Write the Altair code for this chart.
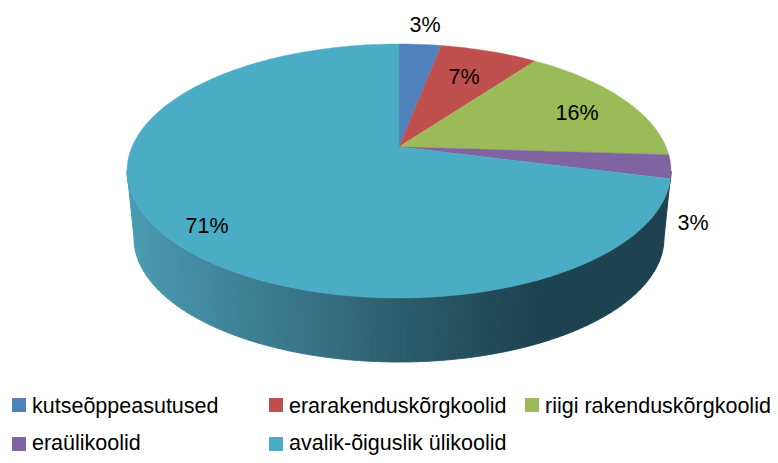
import math
import altair as alt

CATEGORIES = ["kutseõppeasutused", "erarakenduskõrgkoolid", "riigi rakenduskõrgkoolid", "eraülikoolid", "avalik-õiguslik ülikoolid"]
PERCENTS = [3, 7, 16, 3, 71]
COLORS = ["#4F81BD", "#C0504D", "#9BBB59", "#8064A2", "#4BACC6"]

# layout (page pixels)
M = 8
CX, CY, RX, RY, TILT = 399, 171, 272, 127, 0.19
BX, BY, BRX, BRY = 399, 238, 265, 124
LABEL_XY = [(425, 26), (464, 78), (577, 114), (693, 224), (207, 227)]
LEG_SQ = [(19, 405), (276, 405), (532, 405), (19, 444), (276, 444)]
LEG_TX = [(32, 406.5), (289, 406.5), (545, 406.5), (32, 444), (289, 444)]
FS = 21.5
FONT = "Liberation Sans"


def rim(a):
    """Point of the tilted top face for pie angle a (clockwise from 12 o'clock)."""
    sx, sy = math.sin(a), math.cos(a)
    k = 1 + TILT * sy
    return (CX + RX * sx * math.sqrt(1 - TILT ** 2) / k - M,
            CY - RY * (sy + TILT) / k - M)


def feature(ring, **props):
    return {"type": "Feature", "properties": props,
            "geometry": {"type": "Polygon", "coordinates": [[list(p) for p in ring] + [list(ring[0])]]}}


apex = (CX - M, CY - RY * TILT - M)
top = []
cum = 0
for name, pct in zip(CATEGORIES, PERCENTS):
    a0, a1 = cum / 100 * 2 * math.pi, (cum + pct) / 100 * 2 * math.pi
    n = max(4, pct * 4)
    ring = [apex] + [rim(a0 + (a1 - a0) * i / n) for i in range(n + 1)]
    top.append(feature(ring, name=name))
    cum += pct

# side wall: strips of even horizontal width between the upper and the lower ellipse
side = []
N = 110
pt = lambda t, x, y, rx, ry: (x + rx * math.cos(t) - M, y + ry * math.sin(t) - M)
for i in range(N):
    t0 = math.acos(1 - 2 * i / N)
    t1 = math.acos(1 - 2 * (i + 1) / N)
    arc = [t0 + (t1 - t0) * j / 6 for j in range(7)]
    ring = [pt(t, CX, CY, RX, RY) for t in arc] + [pt(t, BX, BY, BRX, BRY) for t in reversed(arc)]
    shade = BX + BRX * math.cos((t0 + t1) / 2)
    side.append(feature(ring, shade=shade))

proj = dict(type="identity", scale=1, translate=[0, 0])

shade_scale = alt.Scale(domain=[130, 200, 300, 400, 500, 535],
                        range=["#4A9BB2", "#428CA2", "#387588", "#2C5D6D", "#214956", "#1D4250"],
                        clamp=True)
side_layer = alt.Chart(alt.Data(values=side)).mark_geoshape(strokeWidth=1).encode(
    color=alt.Color("properties.shade:Q", scale=shade_scale, legend=None),
    stroke=alt.Stroke("properties.shade:Q", scale=shade_scale, legend=None),
).project(**proj)

cat_scale = alt.Scale(domain=CATEGORIES, range=COLORS)
top_layer = alt.Chart(alt.Data(values=top)).mark_geoshape(strokeWidth=0.4).encode(
    color=alt.Color("properties.name:N", scale=cat_scale, legend=None),
    stroke=alt.Stroke("properties.name:N", scale=cat_scale, legend=None),
).project(**proj)

label_rows = [{"t": f"{p}%", "x": x - M, "y": y - M} for p, (x, y) in zip(PERCENTS, LABEL_XY)]
labels = alt.Chart(alt.Data(values=label_rows)).mark_text(
    font=FONT, fontSize=FS, color="#000000", align="center", baseline="middle"
).encode(x=alt.X("x:Q", scale=None, axis=None), y=alt.Y("y:Q", scale=None, axis=None), text="t:N")

sq_rows = [{"c": c, "x": x - M, "y": y - M} for c, (x, y) in zip(CATEGORIES, LEG_SQ)]
squares = alt.Chart(alt.Data(values=sq_rows)).mark_square(size=196, opacity=1).encode(
    x=alt.X("x:Q", scale=None, axis=None), y=alt.Y("y:Q", scale=None, axis=None),
    color=alt.Color("c:N", scale=cat_scale, legend=None),
)

tx_rows = [{"c": c, "x": x - M, "y": y - M} for c, (x, y) in zip(CATEGORIES, LEG_TX)]
leg_text = alt.Chart(alt.Data(values=tx_rows)).mark_text(
    font=FONT, fontSize=FS, color="#000000", align="left", baseline="middle"
).encode(x=alt.X("x:Q", scale=None, axis=None), y=alt.Y("y:Q", scale=None, axis=None), text="c:N")

chart = alt.layer(side_layer, top_layer, labels, squares, leg_text).resolve_scale(
    color="independent", stroke="independent"
).properties(
    width=762, height=447, padding=0, background="#ffffff", autosize=alt.AutoSizeParams(type="none")
).configure_view(stroke=None)

chart.save("out.html", embed_options={"renderer": "svg", "actions": False})
